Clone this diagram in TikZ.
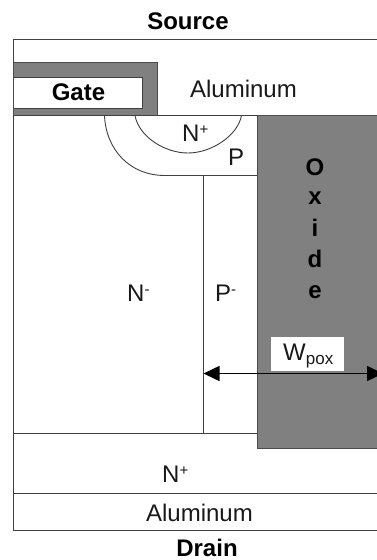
\documentclass[tikz,border=0pt]{standalone}
\usepackage{fontspec}
\setmainfont{Liberation Sans}
\usetikzlibrary{arrows.meta}
\tikzset{
  x=1pt,y=-1pt,
  ln/.style={draw=black!75,line width=0.9pt},
  lbl/.style={inner sep=0pt,anchor=base,font=\fontsize{24}{28}\selectfont,text=black!90},
  bld/.style={inner sep=0pt,anchor=base,font=\fontsize{24}{28}\selectfont\bfseries,text=black},
  ox/.style={fill=black!50,draw=black!70,line width=0.9pt}
}
\begin{document}
\begin{tikzpicture}
\useasboundingbox (0,0) rectangle (377,560);
\fill[white] (0,0) rectangle (377,560);
% outer
\draw[ln] (377,39.5) -- (13.5,39.5) -- (13.5,530.5) -- (377,530.5);
% gate oxide and gate
\draw[ox] (13.5,62.5) rectangle (157.5,115.5);
\draw[ln,fill=white] (13.5,77.5) -- (142.5,77.5) -- (142.5,108) -- (13.5,108);
% layers
\draw[ln] (13.5,115.5) -- (377,115.5);
\draw[ln] (104.5,115.5) .. controls (106,150) and (130,175.5) .. (165,175.5) -- (257,175.5);
\draw[ln] (135,115.5) .. controls (139,137) and (165,153) .. (188,153) .. controls (212,153) and (238,135) .. (241.5,115.5);
\draw[ln] (203.5,175.5) -- (203.5,433.5);
\draw[ln] (13.5,433.5) -- (257,433.5);
\draw[ln] (13.5,493.5) -- (377,493.5);
% oxide
\path[fill=black!50] (257,115.5) rectangle (377,448.5);
\draw[draw=black!70,line width=1pt] (377,115.5) -- (257,115.5) -- (257,448.5) -- (377,448.5);
% W box
\node[fill=white,minimum width=73pt,minimum height=34pt,inner sep=0pt] (wbox) at (307.5,354) {};
\node[lbl,anchor=base west] (wp) at (283,360) {W\raisebox{-4pt}{\fontsize{17}{20}\selectfont pox}};
\coordinate (al) at (203.5,373.5);
\coordinate (ar) at (383,373.5);
\draw[line width=1.5pt,{Triangle[length=16pt,width=15pt]}-{Triangle[length=16pt,width=15pt]},black] (al) -- (ar);
% labels
\node[bld] (src) at (188,29.5) {Source};
\node[bld] (drn) at (207,556.5) {Drain};
\node[bld] (gate) at (78.5,100) {Gate};
\node[lbl] (alu1) at (243.5,97) {Aluminum};
\node[lbl] (alu2) at (199.5,521) {Aluminum};
\node[lbl,anchor=base west] (np1) at (182,141.5) {N\raisebox{7pt}{\fontsize{15}{17}\selectfont +}};
\node[lbl,anchor=base west] (pp) at (228,165) {P};
\node[lbl,anchor=base west] (nm) at (127,301.5) {N\raisebox{7pt}{\fontsize{15}{17}\selectfont -}};
\node[lbl,anchor=base west] (pm) at (215,301.5) {P\raisebox{7pt}{\fontsize{15}{17}\selectfont -}};
\node[lbl,anchor=base west] (np2) at (162,482) {N\raisebox{7pt}{\fontsize{15}{17}\selectfont +}};
\node[bld] (o1) at (315,175) {O};
\node[bld] (o2) at (315,204) {x};
\node[bld] (o3) at (315,236) {i};
\node[bld] (o4) at (315,267) {d};
\node[bld] (o5) at (315,298) {e};
\end{tikzpicture}
\end{document}
